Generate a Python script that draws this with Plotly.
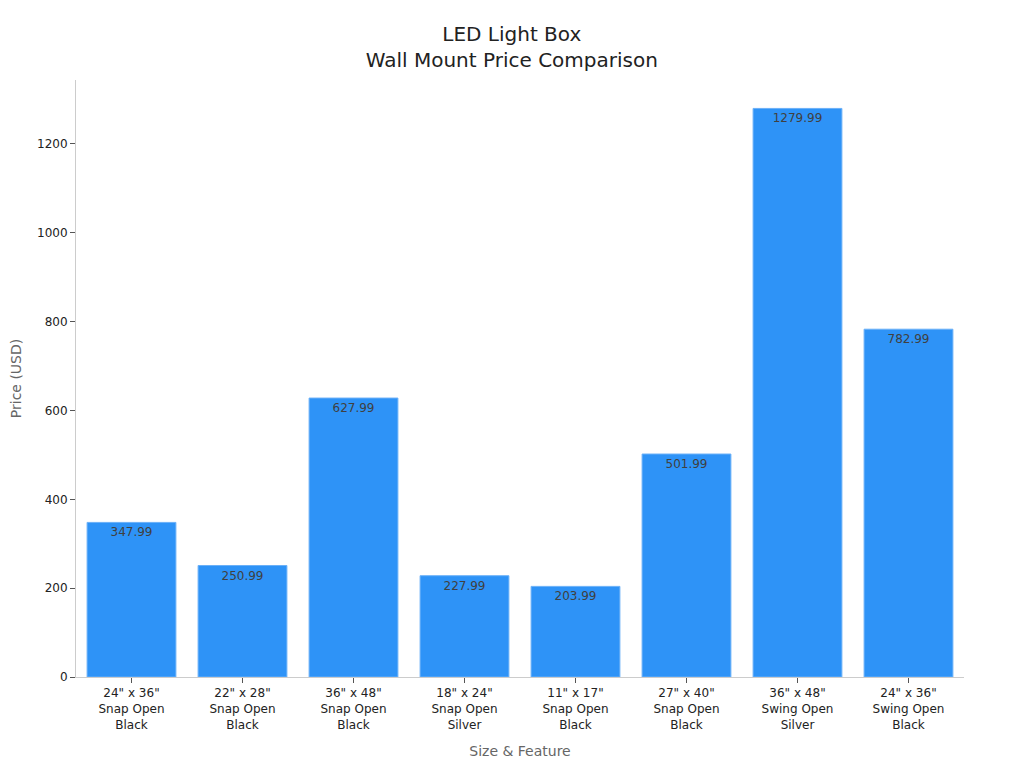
import plotly.graph_objects as go

categories = [
    '24" x 36"<br>Snap Open<br>Black',
    '22" x 28"<br>Snap Open<br>Black',
    '36" x 48"<br>Snap Open<br>Black',
    '18" x 24"<br>Snap Open<br>Silver',
    '11" x 17"<br>Snap Open<br>Black',
    '27" x 40"<br>Snap Open<br>Black',
    '36" x 48"<br>Swing Open<br>Silver',
    '24" x 36"<br>Swing Open<br>Black',
]
prices = [347.99, 250.99, 627.99, 227.99, 203.99, 501.99, 1279.99, 782.99]
price_labels = ["347.99", "250.99", "627.99", "227.99", "203.99", "501.99", "1279.99", "782.99"]

fig = go.Figure(
    go.Bar(
        x=categories,
        y=prices,
        text=price_labels,
        textposition="inside",
        insidetextanchor="end",
        textangle=0,
        textfont=dict(family="DejaVu Sans", size=12, color="#404040"),
        marker=dict(color="#2E93F7", line=dict(color="#6AB0F8", width=1)),
        cliponaxis=False,
    )
)

fig.update_layout(
    width=1024,
    height=768,
    paper_bgcolor="white",
    plot_bgcolor="white",
    font=dict(family="DejaVu Sans", size=12, color="#222222"),
    title=dict(
        text="LED Light Box<br>Wall Mount Price Comparison",
        x=0.492,
        xanchor="center",
        y=0.957,
        yanchor="top",
        font=dict(family="DejaVu Sans", size=20, color="#222222"),
    ),
    margin=dict(l=68, r=68, t=72, b=99),
    bargap=0.2,
    showlegend=False,
    uniformtext=dict(minsize=8, mode="show"),
)

fig.update_xaxes(
    title=dict(text="Size & Feature", font=dict(size=14, color="#666666"), standoff=15),
    showline=True,
    linecolor="#cccccc",
    linewidth=1,
    ticks="outside",
    ticklen=5,
    tickcolor="#555555",
    tickfont=dict(size=12, color="#222222"),
    showgrid=False,
    automargin=False,
)
fig.update_yaxes(
    title=dict(text="Price (USD)", font=dict(size=14, color="#666666"), standoff=17),
    range=[0, 1344],
    showline=True,
    linecolor="#cccccc",
    linewidth=1,
    ticks="outside",
    ticklen=5,
    tickcolor="#555555",
    tickfont=dict(size=12, color="#222222"),
    showgrid=False,
    zeroline=False,
    dtick=200,
    automargin=False,
)

fig.write_html("out.html")
